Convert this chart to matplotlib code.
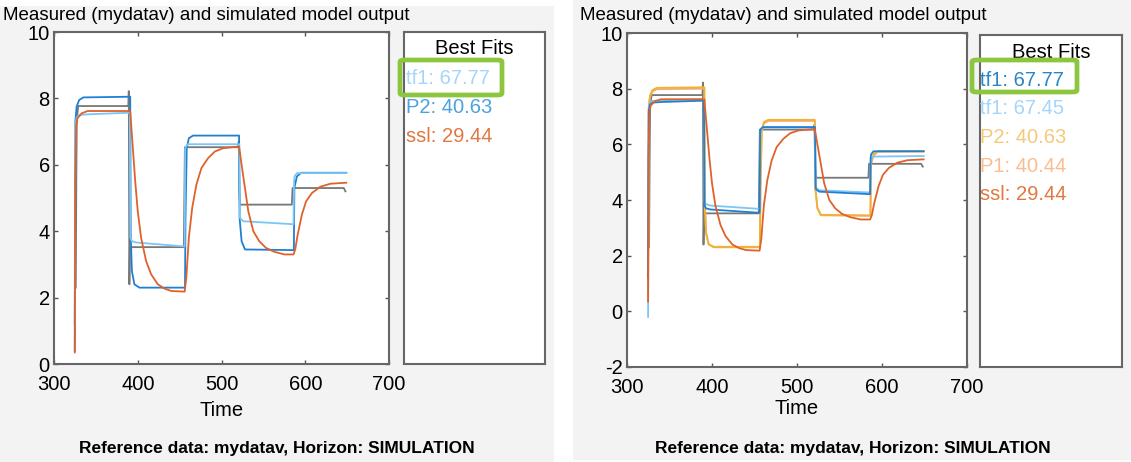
import matplotlib
matplotlib.use("Agg")
import matplotlib.pyplot as plt
from matplotlib.patches import Rectangle, FancyBboxPatch

plt.rcParams['font.family'] = ['Liberation Sans', 'DejaVu Sans']
plt.rcParams['axes.unicode_minus'] = False

W, H = 1131, 462

# measured output (mydatav)
t_meas = [326.0, 326.6, 327.2, 329.0, 388.8, 389.3, 390.0, 390.6, 455.0, 455.6, 456.3,
          520.0, 520.6, 521.3, 522.0, 584.0, 584.8, 646.0, 648.0]
y_meas = [2.3, 5.4, 7.4, 7.77, 7.77, 8.22, 2.4, 3.52, 3.52, 4.9, 6.53,
          6.53, 6.7, 5.2, 4.8, 4.8, 5.3, 5.3, 5.2]

# tf1 (fit 67.77)
t_tf1 = [324.6, 325.6, 327.0, 330.0, 340.0, 390.5, 391.2, 393.0, 398.0, 456.0, 456.6, 457.3,
         460.0, 521.2, 522.0, 526.0, 586.0, 586.6, 587.3, 590.0, 649.0]
y_tf1 = [1.2, 7.2, 7.42, 7.5, 7.52, 7.57, 3.8, 3.7, 3.66, 3.54, 6.45, 6.55,
         6.62, 6.62, 4.4, 4.3, 4.21, 5.5, 5.65, 5.75, 5.75]

# tf1 (fit 67.45)
t_tf1b = [324.8, 325.7, 327.0, 330.0, 340.0, 390.5, 391.2, 393.0, 398.0, 456.0, 456.6, 457.3,
          460.0, 521.2, 522.0, 526.0, 586.0, 586.6, 587.3, 590.0, 649.0]
y_tf1b = [-0.2, 7.3, 7.5, 7.56, 7.58, 7.62, 3.95, 3.85, 3.8, 3.68, 6.4, 6.52,
          6.6, 6.6, 4.45, 4.35, 4.27, 5.3, 5.48, 5.56, 5.58]

# P2 (fit 40.63)
t_p2 = [324.8, 325.5, 327.0, 330.0, 335.0, 391.0, 391.6, 393.0, 396.0, 402.0, 456.4, 457.0,
        458.5, 461.0, 466.0, 521.0, 521.6, 524.0, 528.0, 586.4, 587.0, 590.0, 595.0, 649.0]
y_p2 = [0.4, 7.3, 7.75, 7.95, 8.03, 8.05, 3.9, 2.8, 2.4, 2.3, 2.3, 4.4,
        6.5, 6.8, 6.88, 6.88, 4.4, 3.7, 3.45, 3.43, 5.3, 5.65, 5.76, 5.76]

# P1 (fit 40.44)
t_p1 = [324.8, 325.5, 327.0, 330.0, 335.0, 391.0, 391.6, 393.0, 396.0, 402.0, 456.4, 457.0,
        458.5, 461.0, 466.0, 521.0, 521.6, 524.0, 528.0, 586.4, 587.0, 590.0, 595.0, 649.0]
y_p1 = [0.5, 7.2, 7.7, 7.9, 7.98, 8.0, 3.95, 2.85, 2.42, 2.32, 2.32, 4.3,
        6.45, 6.75, 6.84, 6.84, 4.45, 3.72, 3.47, 3.45, 5.25, 5.6, 5.73, 5.74]

# ssl (fit 29.44)
t_ssl = [324.8, 325.3, 326.5, 328.0, 333.0, 340.0, 391.0, 393.0, 397.0, 400.0, 404.0, 410.0,
         416.0, 424.0, 432.0, 440.0, 456.0, 458.0, 461.0, 465.0, 470.0, 476.0, 484.0, 492.0,
         502.0, 521.0, 524.0, 528.0, 532.0, 538.0, 545.0, 553.0, 563.0, 575.0, 586.0, 588.0,
         591.0, 596.0, 601.0, 608.0, 618.0, 630.0, 649.0]
y_ssl = [0.35, 5.5, 7.2, 7.4, 7.55, 7.62, 7.62, 6.9, 5.5, 4.6, 3.8, 3.1,
         2.7, 2.4, 2.27, 2.2, 2.18, 2.6, 3.8, 4.7, 5.4, 5.9, 6.2, 6.4,
         6.5, 6.55, 6.0, 5.3, 4.6, 4.0, 3.7, 3.5, 3.38, 3.3, 3.3, 3.45,
         3.9, 4.5, 4.9, 5.15, 5.34, 5.43, 5.46]

left_fits = [("tf1: 67.77", "#a3d6fa"), ("P2: 40.63", "#4ba2dc"), ("ssl: 29.44", "#e2773f")]
right_fits = [("tf1: 67.77", "#2a84c7"), ("tf1: 67.45", "#a3d6fa"), ("P2: 40.63", "#f5c97c"),
              ("P1: 40.44", "#fbbd8f"), ("ssl: 29.44", "#e2773f")]

title = "Measured (mydatav) and simulated model output"
footer = "Reference data: mydatav, Horizon: SIMULATION"

GRAY = '#777777'
DBLUE = '#1f80d3'
LBLUE = '#7cc6f7'
ORANGE = '#e0622b'
GOLD = '#f0b330'
PEACH = '#f8a878'


def rect(x0, y0, x1, y1):
    return [x0 / W, 1 - y1 / H, (x1 - x0) / W, (y1 - y0) / H]


fig = plt.figure(figsize=(W / 100, H / 100), dpi=100)
fig.patch.set_facecolor('white')
fig.patches.append(Rectangle((0, 0), 554 / W, 1 - 6 / H, transform=fig.transFigure,
                             facecolor='#f3f3f3', edgecolor='none', zorder=-10))
fig.patches.append(Rectangle((573 / W, 2 / H), (W - 573) / W, 1 - 2 / H, transform=fig.transFigure,
                             facecolor='#f3f3f3', edgecolor='none', zorder=-10))


def style_axes(ax, ylo, yhi, yticks):
    ax.set_xlim(300, 700)
    ax.set_ylim(ylo, yhi)
    ax.set_xticks([300, 400, 500, 600, 700])
    ax.set_yticks(yticks)
    ax.tick_params(direction='in', length=3, width=1, color='#555555', labelsize=14.5,
                   top=True, right=True, pad=3)
    ax.tick_params(axis='x', pad=8)
    for s in ax.spines.values():
        s.set_color('#666666')
        s.set_linewidth(1.5)
    ax.set_facecolor('white')


def legend_box(box, entries, x_text, y_title, y0, dy, hl):
    lb = fig.add_axes(rect(*box))
    lb.set_xticks([])
    lb.set_yticks([])
    for s in lb.spines.values():
        s.set_color('#666666')
        s.set_linewidth(1.5)
    cx = (box[0] + box[2]) / 2
    fig.text(cx / W, 1 - y_title / H, "Best Fits", ha='center', va='center', fontsize=14.5)
    for i, (lab, col) in enumerate(entries):
        fig.text(x_text / W, 1 - (y0 + i * dy) / H, lab, ha='left', va='center',
                 fontsize=14.5, color=col, zorder=5)
    hx0, hy0, hx1, hy1 = hl
    fig.patches.append(FancyBboxPatch((hx0 / W, 1 - hy1 / H), (hx1 - hx0) / W, (hy1 - hy0) / H,
                                      boxstyle="round,pad=0,rounding_size=0.004",
                                      transform=fig.transFigure, facecolor='none',
                                      edgecolor='#8cc63f', linewidth=3.4, zorder=6))


# left panel
ax1 = fig.add_axes(rect(54, 32, 389, 364))
style_axes(ax1, 0, 10, [0, 2, 4, 6, 8, 10])
ax1.plot(t_meas, y_meas, color=GRAY, lw=1.3)
ax1.plot(t_p2, y_p2, color=DBLUE, lw=1.3)
ax1.plot(t_tf1, y_tf1, color=LBLUE, lw=1.3)
ax1.plot(t_ssl, y_ssl, color=ORANGE, lw=1.3)
fig.text(3 / W, 1 - 15 / H, title, ha='left', va='center', fontsize=13.5)
fig.text(221.5 / W, 1 - 410 / H, "Time", ha='center', va='center', fontsize=14.5)
fig.text(277 / W, 1 - 448 / H, footer, ha='center', va='center', fontsize=12.5, fontweight='bold')
legend_box((404, 32, 545, 364), left_fits, 406, 48, 78, 29.5, (400, 60, 502, 95))

# right panel
ax2 = fig.add_axes(rect(627, 33, 967, 367))
style_axes(ax2, -2, 10, [-2, 0, 2, 4, 6, 8, 10])
ax2.plot(t_meas, y_meas, color=GRAY, lw=1.3)
ax2.plot(t_p1, y_p1, color=PEACH, lw=1.3)
ax2.plot(t_p2, y_p2, color=GOLD, lw=1.3)
ax2.plot(t_tf1b, y_tf1b, color=LBLUE, lw=1.3)
ax2.plot(t_tf1, y_tf1, color=DBLUE, lw=1.3)
ax2.plot(t_ssl, y_ssl, color=ORANGE, lw=1.3)
fig.text(580 / W, 1 - 15 / H, title, ha='left', va='center', fontsize=13.5)
fig.text(797 / W, 1 - 408 / H, "Time", ha='center', va='center', fontsize=14.5)
fig.text(853 / W, 1 - 448 / H, footer, ha='center', va='center', fontsize=12.5, fontweight='bold')
legend_box((980, 35, 1122, 367), right_fits, 980, 52, 80, 28.7, (972, 60, 1077, 92))

fig.savefig("out.png", dpi=100)
